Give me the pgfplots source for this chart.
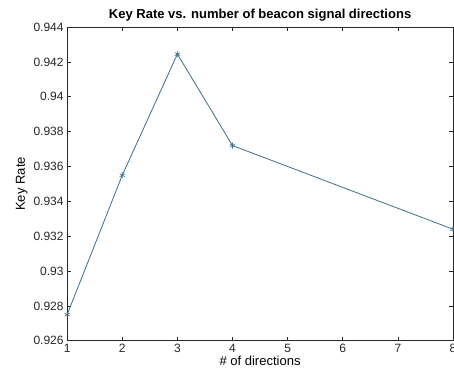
\documentclass[border=0pt]{standalone}
\usepackage{pgfplots}
\pgfplotsset{compat=1.18}
\usepackage{fontspec}
\setmainfont{Liberation Sans}
\definecolor{linec}{RGB}{60,110,140}
\definecolor{axc}{RGB}{40,40,40}
\begin{document}
\begin{tikzpicture}
\begin{axis}[
  scale only axis,
  width=385pt, height=313pt,
  xmin=1, xmax=8, ymin=0.926, ymax=0.944,
  xtick={1,2,3,4,5,6,7,8},
  ytick={0.926,0.928,0.93,0.932,0.934,0.936,0.938,0.94,0.942,0.944},
  tick align=inside,
  tick pos=both,
  major tick length=4pt,
  axis line style={axc, line width=0.7pt},
  every tick/.style={axc, line width=0.6pt},
  tick label style={font=\fontsize{12}{14}\selectfont, text=black!85},
  /pgf/number format/assume math mode=true,
  yticklabel style={/pgf/number format/.cd, fixed, precision=3},
  title={\bfseries Key Rate vs. number of beacon signal directions},
  title style={font=\fontsize{13}{15}\selectfont, yshift=-4pt},
  xlabel={\# of directions},
  ylabel={Key Rate},
  label style={font=\fontsize{13}{15}\selectfont},
  xlabel style={yshift=4pt},
  ylabel style={yshift=-1pt},
]
\addplot[linec, line width=0.8pt, mark=asterisk, mark size=3pt, mark options={line width=0.6pt}]
  coordinates {(1,0.9275) (2,0.9355) (3,0.94245) (4,0.9372) (8,0.9324)};
\end{axis}
\pgfresetboundingbox
\useasboundingbox ([xshift=-67pt,yshift=-38pt]current axis.south west) rectangle ([xshift=1pt,yshift=27pt]current axis.north east);
\end{tikzpicture}
\end{document}
